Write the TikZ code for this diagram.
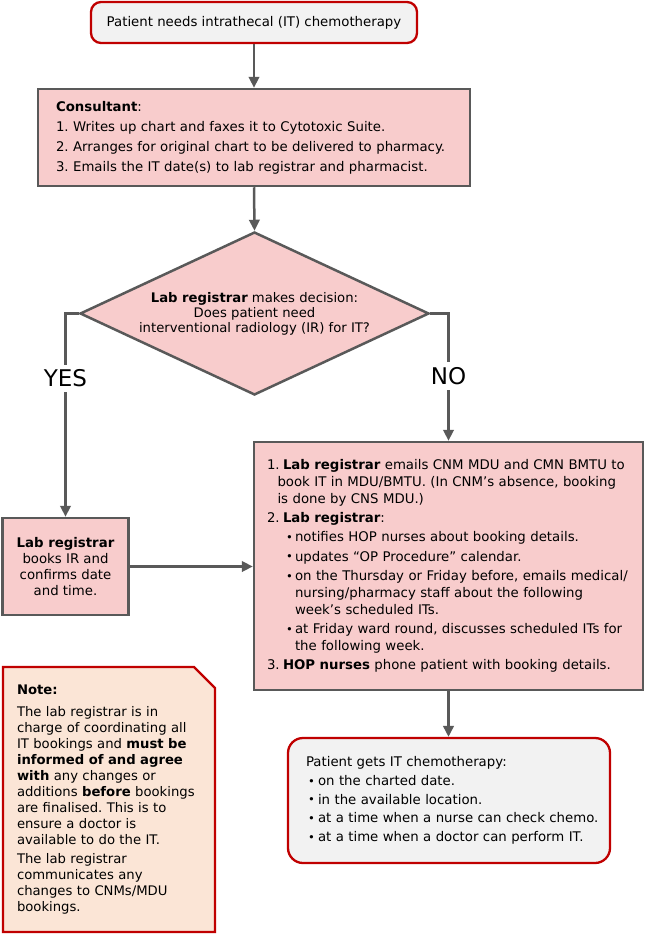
\documentclass[tikz,border=0pt]{standalone}
\usepackage{fontspec}
\setmainfont{DejaVu Sans}
\frenchspacing
\usetikzlibrary{arrows.meta,shapes.geometric}
\pgfdeclarelayer{background}
\pgfsetlayers{background,main}
\definecolor{pinkfill}{RGB}{248,204,204}
\definecolor{notefill}{RGB}{251,229,214}
\definecolor{grayfill}{RGB}{242,242,242}
\definecolor{redline}{RGB}{192,0,0}
\definecolor{grayline}{RGB}{89,89,89}
\newcommand{\Bul}[1]{\makebox[#1][l]{\fontsize{11.5}{11.5}\selectfont\raisebox{0.4pt}{•}}}
\begin{document}
\begin{tikzpicture}[x=1pt,y=-1pt,
  txt/.style={font=\fontsize{13.3}{16.8}\selectfont, text=black},
  startbox/.style={txt, draw=redline, line width=2.3pt, fill=grayfill, rounded corners=10pt, inner sep=0pt},
  endbox/.style={txt, draw=redline, line width=2.3pt, fill=grayfill, rounded corners=15pt, inner sep=0pt},
  procbox/.style={txt, draw=grayline, line width=2.5pt, fill=pinkfill, inner sep=0pt},
  decision/.style={txt, diamond, draw=grayline, line width=2.5pt, fill=pinkfill, inner sep=0pt, shape aspect=2.14, align=center},
  notetext/.style={txt, inner sep=0pt, outer sep=0pt},
  noteshape/.style={draw=redline, fill=notefill, line width=2.3pt, line join=miter},
  arr/.style={draw=grayline, line width=2.5pt, -{Triangle[length=11pt,width=10.5pt]}},
  lbl/.style={fill=white, text=black, font=\fontsize{23}{23}\selectfont, inner sep=5pt}
]
\useasboundingbox (0,0) rectangle (648,934);

\node[startbox, minimum width=326pt, minimum height=41pt] (start) at (254,22.5)
  {Patient needs intrathecal (IT) chemotherapy};

\node[procbox, minimum width=432pt, minimum height=97pt, text width=396pt, align=left] (cons) at (254,137.5)
  {\textbf{Consultant}:\\[3.2pt]
   1. Writes up chart and faxes it to Cytotoxic Suite.\\[3.2pt]
   2. Arranges for original chart to be delivered to pharmacy.\\[3.2pt]
   3. Emails the IT date(s) to lab registrar and pharmacist.};

\node[decision, minimum width=349pt, minimum height=163pt, font=\fontsize{13.2}{15}\selectfont] (dec) at (254.5,313.5)
  {\textbf{Lab registrar} makes decision:\\Does patient need\\interventional radiology (IR) for IT?};

\node[procbox, minimum width=126pt, minimum height=97pt, align=center, font=\fontsize{13.3}{15.7}\selectfont] (lab) at (65.5,566.5)
  {\textbf{Lab registrar}\\books IR and\\confirms date\\and time.};

\node[procbox, minimum width=389pt, minimum height=248pt, text width=363pt, align=left] (big) at (448.5,566)
  {\makebox[16pt][l]{1.}\textbf{Lab registrar} emails CNM MDU and CMN BMTU to\\
   \hspace*{10.5pt}book IT in MDU/BMTU. (In CNM’s absence, booking\\
   \hspace*{10.5pt}is done by CNS MDU.)\\[2.5pt]
   \makebox[16pt][l]{2.}\textbf{Lab registrar}:\\[2.5pt]
   \hspace*{19pt}\Bul{9pt}notifies HOP nurses about booking details.\\[2.5pt]
   \hspace*{19pt}\Bul{9pt}updates “OP Procedure” calendar.\\[2.5pt]
   \mbox{\hspace*{19pt}\Bul{9pt}on the Thursday or Friday before, emails medical/}\\
   \hspace*{28pt}nursing/pharmacy staff about the following\\
   \hspace*{28pt}week’s scheduled ITs.\\[2.5pt]
   \mbox{\hspace*{19pt}\Bul{9pt}at Friday ward round, discusses scheduled ITs for}\\
   \hspace*{28pt}the following week.\\[2.5pt]
   \makebox[16pt][l]{3.}\textbf{HOP nurses} phone patient with booking details.};

\node[notetext, minimum width=212pt, minimum height=265pt, text width=184pt, align=left, font=\fontsize{13.2}{16}\selectfont] (note) at (109,799.5)
  {\textbf{Note:}\\[6pt]
   The lab registrar is in\\
   charge of coordinating all\\
   IT bookings and \textbf{must be}\\
   \textbf{informed of and agree}\\
   \textbf{with} any changes or\\
   additions \textbf{before} bookings\\
   are finalised. This is to\\
   ensure a doctor is\\
   available to do the IT.\\[3pt]
   The lab registrar\\
   communicates any\\
   changes to CNMs/MDU\\
   bookings.};
\begin{pgfonlayer}{background}
\draw[noteshape] (note.north west) -- ([xshift=-21pt]note.north east)
  -- ([yshift=-21pt]note.north east) -- (note.south east) -- (note.south west) -- cycle;
\end{pgfonlayer}

\node[endbox, minimum width=322pt, minimum height=125pt, text width=286pt, align=left, font=\fontsize{13.3}{18.7}\selectfont] (end) at (449,800.5)
  {Patient gets IT chemotherapy:\\
   \mbox{\hspace*{2pt}\Bul{10pt}on the charted date.}\\
   \mbox{\hspace*{2pt}\Bul{10pt}in the available location.}\\
   \mbox{\hspace*{2pt}\Bul{10pt}at a time when a nurse can check chemo.}\\
   \mbox{\hspace*{2pt}\Bul{10pt}at a time when a doctor can perform IT.}};

\draw[arr] (start.south) -- (cons.north);
\draw[arr] (cons.south) -- (dec.north);
\draw[arr] (dec.west) -| node[lbl, pos=0.66] (yes) {YES} (lab.north);
\draw[arr] (dec.east) -| node[lbl, pos=0.745] (no) {NO} (big.north);
\draw[arr] (lab.east) -- (lab.east -| big.west);
\draw[arr] (big.south) -- (big.south |- end.north);
\end{tikzpicture}
\end{document}
